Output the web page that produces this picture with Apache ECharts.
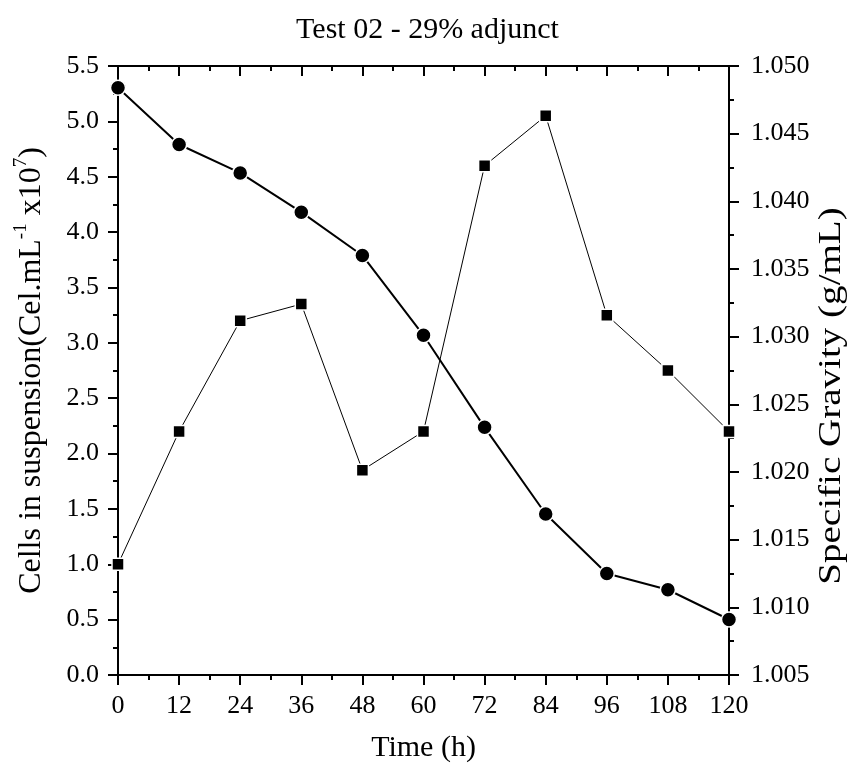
<!DOCTYPE html>
<html><head><meta charset="utf-8">
<script src="https://cdn.jsdelivr.net/npm/echarts@6/dist/echarts.min.js"></script>
<style>html,body{margin:0;padding:0;background:#fff}#c{width:855px;height:772px}</style>
</head><body><div id="c"></div>
<script>
const timeH = [0, 12, 24, 36, 48, 60, 72, 84, 96, 108, 120];
const cellsSuspension = [1.0, 2.2, 3.2, 3.35, 1.85, 2.2, 4.6, 5.05, 3.25, 2.75, 2.2];
const specificGravity = [1.0484, 1.0442, 1.0421, 1.0392, 1.0360, 1.0301, 1.0233, 1.0169, 1.0125, 1.0113, 1.0091];

const F = 'Liberation Serif';
const chart = echarts.init(document.getElementById('c'));
const axisLine = {show: true, onZero: false, lineStyle: {color: '#000', width: 2}};
const tick = {show: true, length: 10, lineStyle: {color: '#000', width: 2}};
const minor = {show: true, splitNumber: 2, length: 5, lineStyle: {color: '#000', width: 2}};
chart.setOption({
  animation: false,
  title: {text: 'Test 02 - 29% adjunct', left: 'center', top: 10,
    textStyle: {fontFamily: F, fontSize: 30, fontWeight: 'normal', color: '#000'}},
  grid: {left: 118, right: 126, top: 66, bottom: 97, containLabel: false, outerBoundsMode: 'none'},
  graphic: [{
    type: 'text', x: 832, y: 396, rotation: Math.PI / 2, scaleX: 1.26, scaleY: 1,
    style: {text: 'Specific Gravity (g/mL)', font: '31px "Liberation Serif"', fill: '#000',
      align: 'center', verticalAlign: 'middle'}
  }],
  xAxis: [{
    type: 'value', min: 0, max: 120, interval: 12, position: 'bottom',
    name: 'Time (h)', nameLocation: 'middle', nameGap: 58,
    nameTextStyle: {fontFamily: F, fontSize: 30, color: '#000'},
    axisLine: axisLine, axisTick: tick, minorTick: minor,
    axisLabel: {fontFamily: F, fontSize: 26, color: '#000', margin: 18},
    splitLine: {show: false}, minorSplitLine: {show: false}
  }, {
    type: 'value', min: 0, max: 120, interval: 12, position: 'top',
    axisLine: axisLine,
    axisTick: Object.assign({}, tick, {inside: true}),
    minorTick: minor,
    axisLabel: {show: false}, splitLine: {show: false}
  }],
  yAxis: [{
    type: 'value', min: 0, max: 5.5, interval: 0.5, position: 'left',
    name: '{a|Cells in suspension(Cel.mL}{s|-1}{a| x10}{s|7}{a|)}',
    nameLocation: 'middle', nameGap: 70, nameRotate: 90,
    nameTextStyle: {rich: {
      a: {fontFamily: F, fontSize: 32, color: '#000', verticalAlign: 'bottom', lineHeight: 36},
      s: {fontFamily: F, fontSize: 19, color: '#000', verticalAlign: 'top', lineHeight: 36}
    }},
    axisLine: axisLine, axisTick: tick, minorTick: minor,
    axisLabel: {fontFamily: F, fontSize: 26, color: '#000', margin: 19,
      formatter: v => v.toFixed(1)},
    splitLine: {show: false}
  }, {
    type: 'value', min: 1.005, max: 1.050, interval: 0.005, position: 'right',
    axisLine: axisLine, axisTick: tick, minorTick: minor,
    axisLabel: {fontFamily: F, fontSize: 26, color: '#000', margin: 22,
      formatter: v => v.toFixed(3)},
    splitLine: {show: false}
  }],
  series: [{
    type: 'line', xAxisIndex: 0, yAxisIndex: 0,
    data: timeH.map((t, i) => [t, cellsSuspension[i]]),
    symbol: 'rect', symbolSize: 12,
    lineStyle: {color: '#000', width: 1},
    itemStyle: {color: '#000', borderColor: '#fff', borderWidth: 1.5},
    clip: false, z: 3
  }, {
    type: 'line', xAxisIndex: 0, yAxisIndex: 1,
    data: timeH.map((t, i) => [t, specificGravity[i]]),
    symbol: 'circle', symbolSize: 15,
    lineStyle: {color: '#000', width: 2},
    itemStyle: {color: '#000', borderColor: '#fff', borderWidth: 1.5},
    clip: false, z: 4
  }]
});
</script></body></html>
